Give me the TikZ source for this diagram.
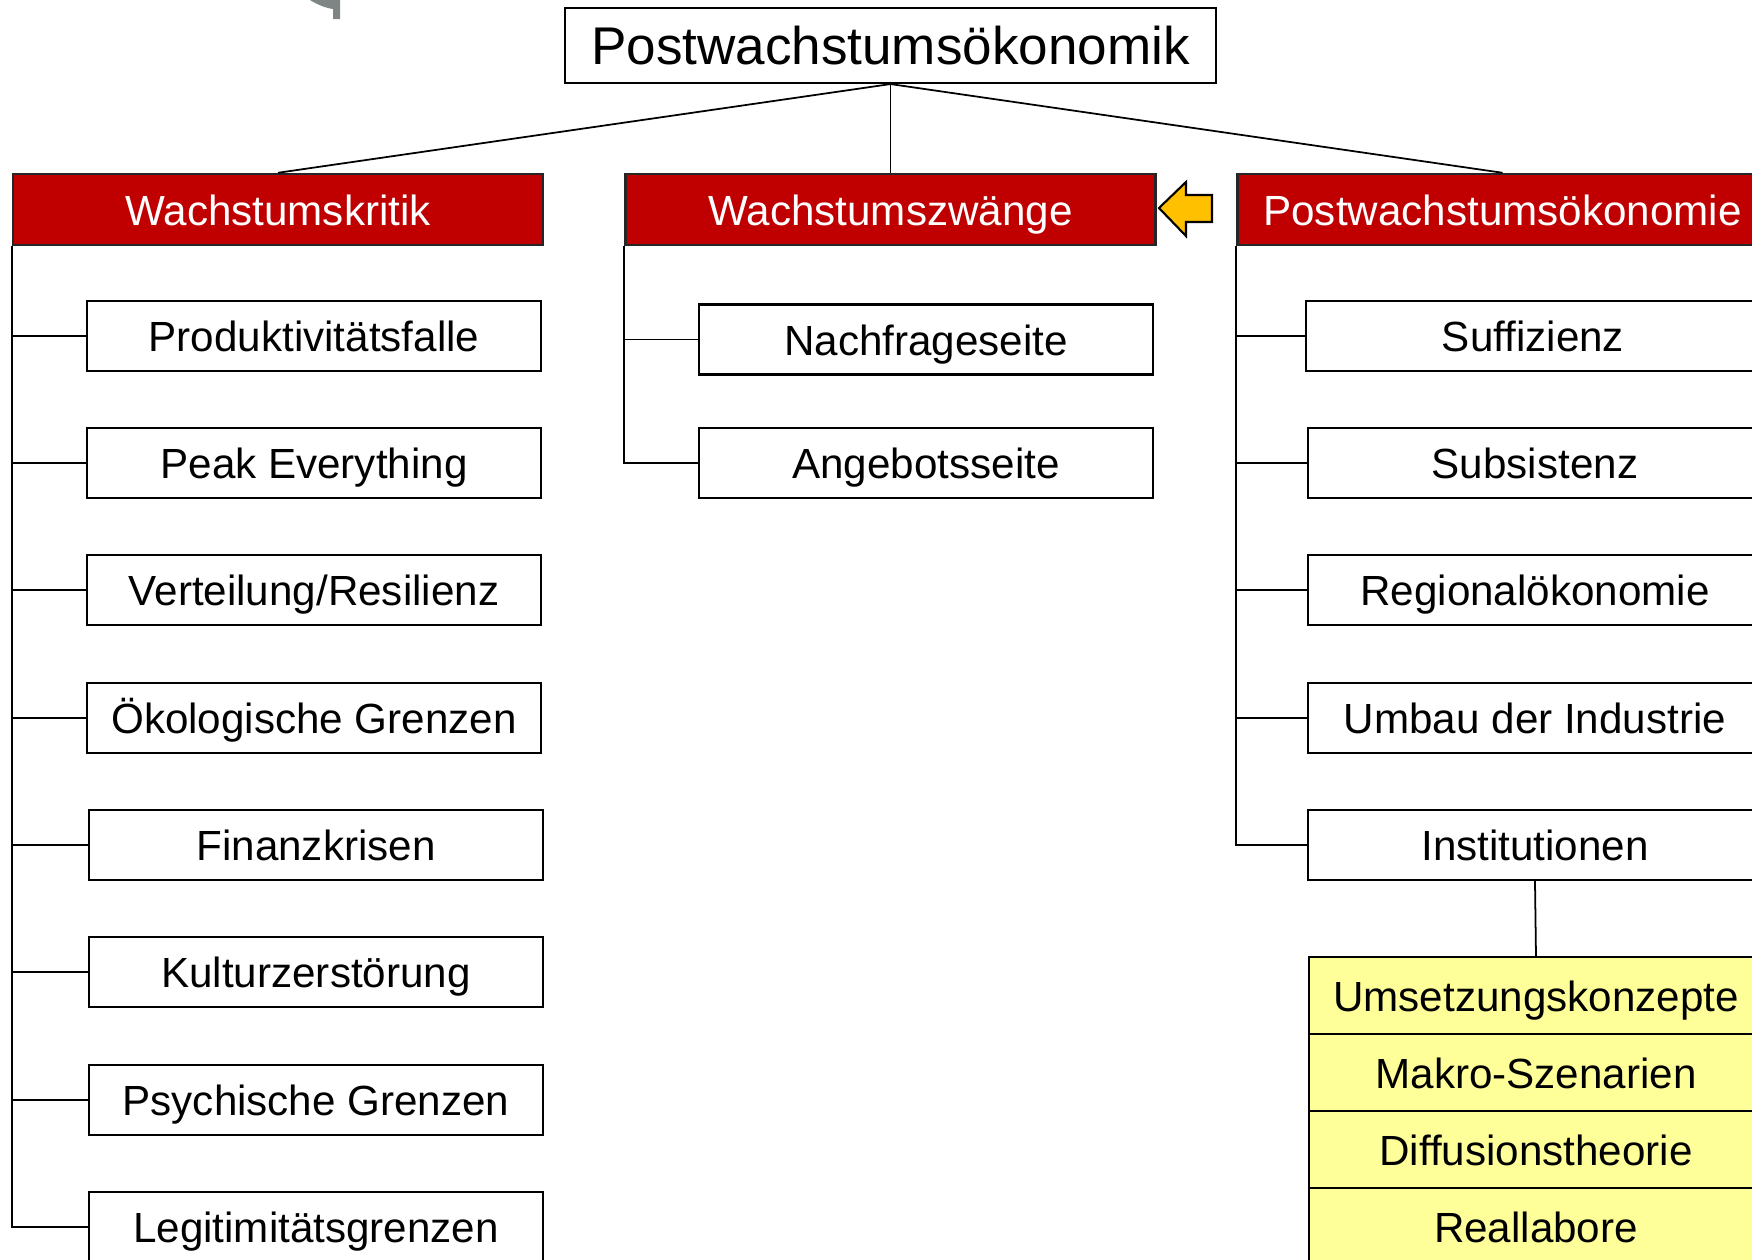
\documentclass[tikz,border=0pt]{standalone}
\usepackage{fontspec}
\setmainfont{Liberation Sans}

\definecolor{darkRed}{HTML}{C00000}
\definecolor{paleYellow}{HTML}{FFFF99}
\definecolor{arrowGold}{HTML}{FFC000}
\definecolor{arcGray}{HTML}{7F8585}

\begin{document}
\begin{tikzpicture}[x=0.1mm, y=-0.1mm,
    rootbox/.style={draw, line width=0.6pt, inner sep=0pt, minimum width=65.1mm, minimum height=7.5mm, font=\fontsize{15.1}{18}\selectfont},
    headbox/.style={draw=black!85, fill=darkRed, text=white, line width=0.7pt, inner sep=0pt, minimum width=53mm, minimum height=7.1mm, font=\fontsize{12}{14}\selectfont, text height=11.4pt, text depth=2.5pt},
    itembox/.style={draw, line width=0.6pt, inner sep=0pt, minimum width=45.4mm, minimum height=7mm, font=\fontsize{12}{14}\selectfont, text height=11.4pt, text depth=2.5pt},
    conceptbox/.style={itembox, fill=paleYellow, minimum height=7.7mm},
    link/.style={line width=0.5pt}]
    \useasboundingbox (0,0) rectangle (1752,1259);

    % broken arc from the slide
    \fill[arcGray] (310,0) .. controls (318,5) and (326,8) .. (333,9) -- (333,19) -- (340,19) -- (340,0) -- cycle;

    \node[rootbox] (root) at (890.5,45.5) {Postwachstumsökonomik};

    \node[headbox] (krit) at (278,209.5) {Wachstumskritik};
    \node[headbox] (zwang) at (890.5,209.5) {Wachstumszwänge};
    \node[headbox] (pwoek) at (1502.5,209.5) {Postwachstumsökonomie};

    \draw[link] (root.south) -- (krit.north);
    \draw[link] (root.south) -- (zwang.north);
    \draw[link] (root.south) -- (pwoek.north);

    % Wachstumskritik
    \node[itembox] (prod) at (314,336) {Produktivitätsfalle};
    \node[itembox] (peak) at (314,463) {Peak Everything};
    \node[itembox] (vert) at (314,590) {Verteilung/Resilienz};
    \node[itembox] (oeko) at (314,718) {Ökologische Grenzen};
    \node[itembox] (fin) at (316,845) {Finanzkrisen};
    \node[itembox] (kult) at (316,972) {Kulturzerstörung};
    \node[itembox] (psych) at (316,1100) {Psychische Grenzen};
    \node[itembox] (legit) at (316,1227) {Legitimitätsgrenzen};
    \foreach \n in {prod,peak,vert,oeko,fin,kult,psych,legit}
        \draw[link] (krit.south west) |- (\n.west);

    % Wachstumszwaenge
    \node[itembox] (nach) at (926,339.5) {Nachfrageseite};
    \node[itembox] (ange) at (926,463) {Angebotsseite};
    \foreach \n in {nach,ange}
        \draw[link] (zwang.south west) |- (\n.west);

    \fill[arrowGold, draw=black, line width=0.6pt, line join=miter]
        (1159,208) -- (1186,182) -- (1186,195) -- (1212,195) -- (1212,222) -- (1186,222) -- (1186,236) -- cycle;

    % Postwachstumsoekonomie
    \node[itembox] (suff) at (1533,336) {Suffizienz};
    \node[itembox] (subs) at (1535,463) {Subsistenz};
    \node[itembox] (regio) at (1535,590) {Regionalökonomie};
    \node[itembox] (umbau) at (1535,718) {Umbau der Industrie};
    \node[itembox] (inst) at (1535,845) {Institutionen};
    \foreach \n in {suff,subs,regio,umbau,inst}
        \draw[link] (pwoek.south west) |- (\n.west);

    \node[conceptbox] (umsetz) at (1536,995.5) {Umsetzungskonzepte};
    \node[conceptbox] (makro) at (1536,1072.5) {Makro-Szenarien};
    \node[conceptbox] (diff) at (1536,1149.5) {Diffusionstheorie};
    \node[conceptbox] (real) at (1536,1226.5) {Reallabore};
    \draw[link] (inst.south) -- (umsetz.north);
\end{tikzpicture}
\end{document}
